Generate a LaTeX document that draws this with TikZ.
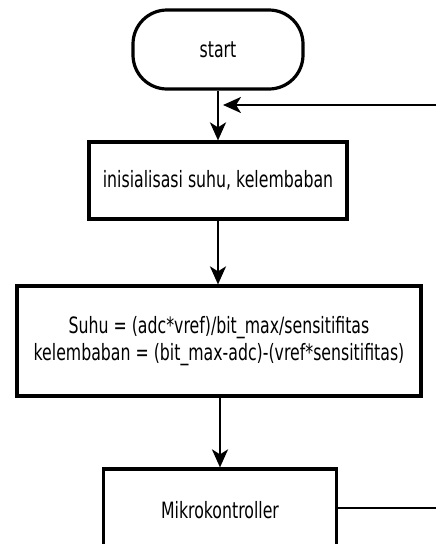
\documentclass[tikz,border=0pt]{standalone}
\usepackage{fontspec}
\setmainfont{DejaVu Sans}[FakeStretch=0.7]
\usetikzlibrary{arrows.meta}
\begin{document}
\begin{tikzpicture}[x=1pt,y=-1pt,
  box/.style={draw=black,line width=3.2pt,fill=white,inner sep=0pt,align=center,font=\fontsize{22.5}{27}\selectfont},
  term/.style={box,rounded corners=34pt},
  flow/.style={draw=black,line width=2.6pt,-{Stealth[length=18pt,width=16pt,inset=5pt]}}]
\clip (0,0) rectangle (436,544);
\fill[white] (0,0) rectangle (436,544);
\node[term,minimum width=170pt,minimum height=79pt] (start) at (218,49.5) {start};
\node[box,minimum width=258pt,minimum height=77pt] (init) at (218,180.5) {inisialisasi suhu, kelembaban};
\node[box,minimum width=404pt,minimum height=110pt,text depth=6pt] (calc) at (219,341) {Suhu = (adc*vref)/bit\_max/sensitifitas\\kelembaban = (bit\_max-adc)-(vref*sensitifitas)};
\node[box,minimum width=233pt,minimum height=82pt] (mk) at (220,510) {Mikrokontroller};
\coordinate (fbin) at (440,105);
\coordinate (fbtip) at (223,105);
\coordinate (mkout) at (440,508);
\draw[flow] (start.south) -- (start.south |- init.north);
\draw[flow] (init.south) -- (init.south |- calc.north);
\draw[flow] (mk.north |- calc.south) -- (mk.north);
\draw[flow] (fbin) -- (fbtip);
\draw[line width=2.6pt] (mk.east |- mkout) -- (mkout);
\end{tikzpicture}
\end{document}
